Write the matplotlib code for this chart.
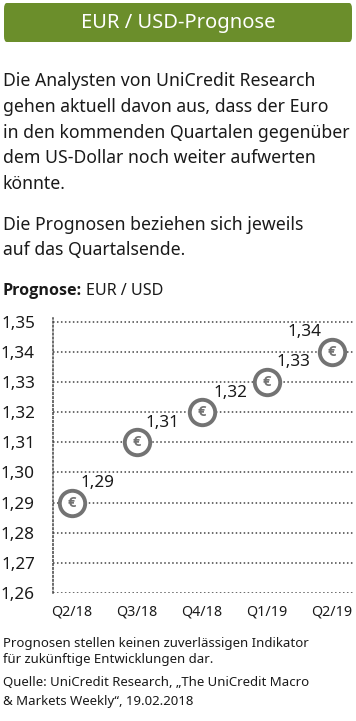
import matplotlib
matplotlib.use("Agg")
import matplotlib.pyplot as plt
from matplotlib.patches import FancyBboxPatch

plt.rcParams['font.family'] = ['Noto Sans', 'DejaVu Sans']

# ---- data ----
quarters = ["Q2/18", "Q3/18", "Q4/18", "Q1/19", "Q2/19"]
forecast = [1.29, 1.31, 1.32, 1.33, 1.34]
value_labels = ["1,29", "1,31", "1,32", "1,33", "1,34"]
y_ticks = [1.26, 1.27, 1.28, 1.29, 1.30, 1.31, 1.32, 1.33, 1.34, 1.35]
y_tick_labels = ["1,26", "1,27", "1,28", "1,29", "1,30", "1,31", "1,32", "1,33", "1,34", "1,35"]

title = "EUR / USD-Prognose"
body1 = ["Die Analysten von UniCredit Research",
         "gehen aktuell davon aus, dass der Euro",
         "in den kommenden Quartalen gegenüber",
         "dem US-Dollar noch weiter aufwerten",
         "könnte."]
body2 = ["Die Prognosen beziehen sich jeweils",
         "auf das Quartalsende."]
footer1 = ["Prognosen stellen keinen zuverlässigen Indikator",
           "für zukünftige Entwicklungen dar."]
footer2 = ["Quelle: UniCredit Research, \u201eThe UniCredit Macro",
           "& Markets Weekly\u201c, 19.02.2018"]

W, H = 356, 721
fig = plt.figure(figsize=(W / 100, H / 100), dpi=100)
fig.patch.set_facecolor("white")

def fx(px):
    return px / W

def fy(py):
    return 1 - py / H

green = "#6b8e2b"
txt = "#1a1a1a"
gray = "#737373"

# header
hdr = FancyBboxPatch((fx(4), fy(42)), fx(348), 39 / H,
                     boxstyle="round,pad=0,rounding_size=0.008",
                     transform=fig.transFigure, facecolor=green, edgecolor="none")
fig.patches.append(hdr)
fig.text(fx(178), fy(23), title, color="white", fontsize=14.5,
         ha="center", va="center")

# body text
ys1 = [81, 107, 133, 158, 184]
for s, y in zip(body1, ys1):
    fig.text(fx(3), fy(y), s, color=txt, fontsize=12.7, ha="left", va="center")
ys2 = [225, 250]
for s, y in zip(body2, ys2):
    fig.text(fx(3), fy(y), s, color=txt, fontsize=12.7, ha="left", va="center")

fig.text(fx(3), fy(291), "Prognose:", color=txt, fontsize=11.6, fontweight="bold",
         family=["Open Sans", "Lato", "DejaVu Sans"], ha="left", va="center")
fig.text(fx(86), fy(291), "EUR / USD", color=txt, fontsize=11.6,
         ha="left", va="center")

# chart
ax = fig.add_axes([fx(53), fy(593), fx(300), 275 / H])
x = list(range(len(quarters)))
ax.set_xlim(-0.29, 4.32)
ax.set_ylim(1.26, 1.3512)
ax.set_yticks(y_ticks)
ax.set_yticklabels(y_tick_labels)
ax.set_xticks(x)
ax.set_xticklabels(quarters)
ax.tick_params(axis="y", length=0, pad=13, labelsize=12.3, labelcolor=txt)
ax.tick_params(axis="x", length=0, pad=8, labelsize=10.3, labelcolor=txt)
for sp in ["top", "right", "bottom"]:
    ax.spines[sp].set_visible(False)
ax.spines["left"].set_linestyle((0, (1, 1.6)))
ax.spines["left"].set_color("#444444")
ax.spines["left"].set_linewidth(1.1)
for yv in y_ticks:
    ax.axhline(yv, color="#444444", linestyle=(0, (1, 1.6)), linewidth=1.1, zorder=1)

ax.plot(x, forecast, linestyle="none", marker="o", markersize=18.3,
        markerfacecolor="white", markeredgecolor=gray, markeredgewidth=2.8,
        zorder=3, clip_on=False)
for xi, yi in zip(x, forecast):
    ax.text(xi, yi, "\u20ac", color=gray, fontsize=10.5, fontweight="bold",
            family=["Open Sans", "DejaVu Sans"],
            ha="center", va="center", zorder=4)

offsets = [(6, 14), (6, 14), (8, 14), (7, 14), (-8, 14)]
aligns = ["left", "left", "left", "left", "right"]
for xi, yi, lab, off, al in zip(x, forecast, value_labels, offsets, aligns):
    ax.annotate(lab, (xi, yi), xytext=off, textcoords="offset points",
                ha=al, va="center", fontsize=12.3, color=txt, zorder=5)

# footer
for s, y in zip(footer1, [643, 660]):
    fig.text(fx(3), fy(y), s, color=txt, fontsize=9.5, ha="left", va="center")
for s, y in zip(footer2, [683, 701]):
    fig.text(fx(3), fy(y), s, color=txt, fontsize=9.5, ha="left", va="center")

fig.savefig("out.png", dpi=100, facecolor="white")
